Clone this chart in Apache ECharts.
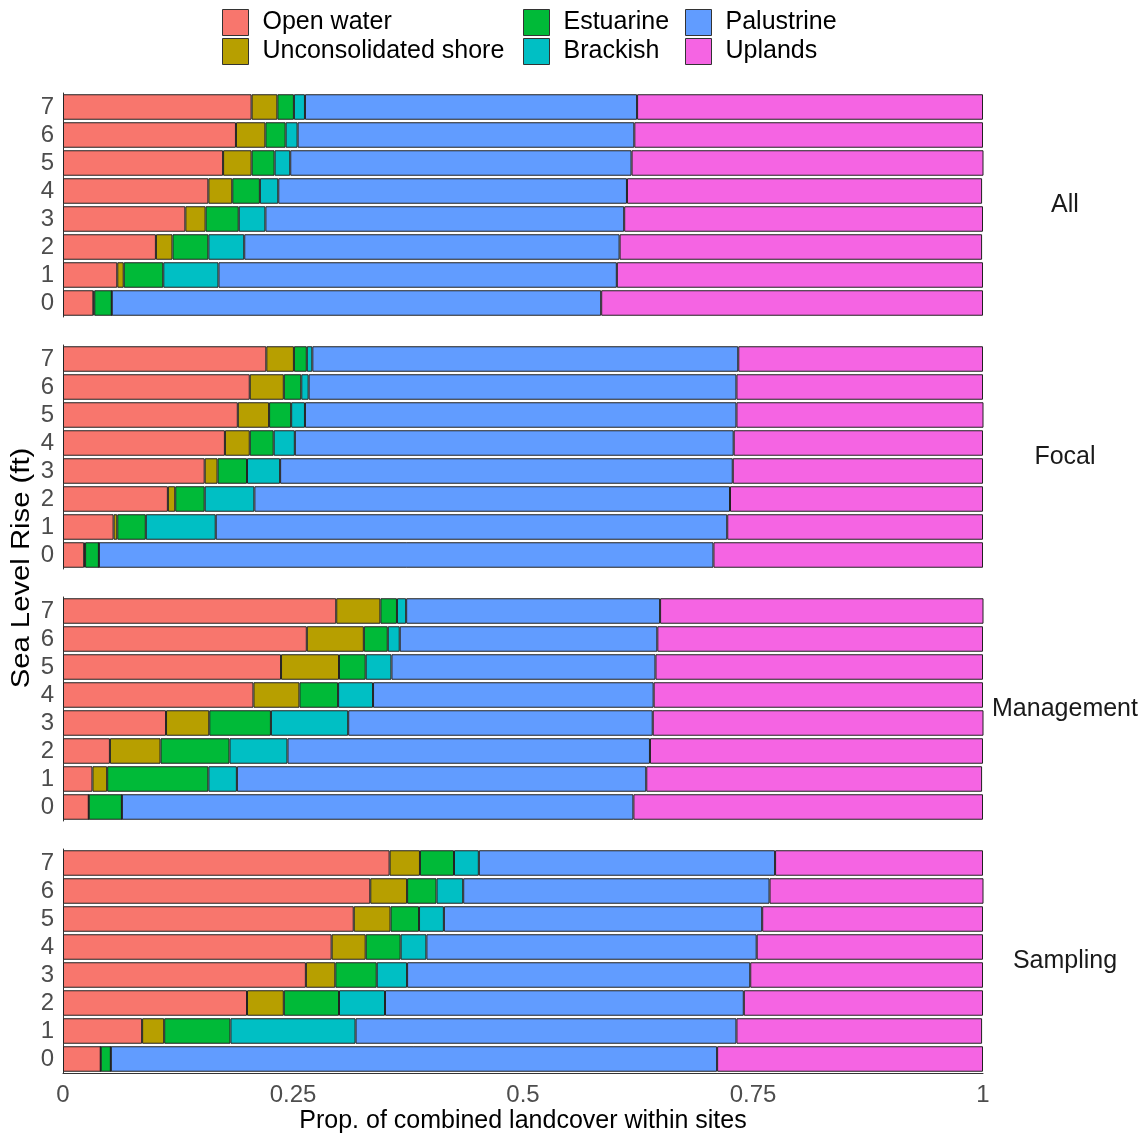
<!DOCTYPE html>
<html>
<head>
<meta charset="utf-8">
<script src="https://cdn.jsdelivr.net/npm/echarts@6/dist/echarts.min.js"></script>
<style>html,body{margin:0;padding:0;background:#fff;}#c{width:1146px;height:1134px;}</style>
</head>
<body>
<div id="c"></div>
<script>
// Categories (sea level rise, ft) and tick labels
var levels = ['0','1','2','3','4','5','6','7'];
var xTicks = [0, 0.25, 0.5, 0.75, 1];
var panels = ['All','Focal','Management','Sampling'];
var classes = ['Open water','Unconsolidated shore','Estuarine','Brackish','Palustrine','Uplands'];
var colors = ['#F8766D','#B79F00','#00BA38','#00BFC4','#619CFF','#F564E3'];

// Panel: All (rows 0..7)
var allOpen  = [0.033,0.059,0.101,0.133,0.158,0.174,0.188,0.205];
var allUnc   = [0.001,0.007,0.018,0.022,0.026,0.031,0.032,0.028];
var allEst   = [0.019,0.043,0.039,0.036,0.030,0.025,0.022,0.018];
var allBrack = [0.000,0.060,0.039,0.029,0.020,0.017,0.013,0.012];
var allPal   = [0.532,0.433,0.408,0.390,0.379,0.371,0.366,0.361];
var allUpl   = [0.415,0.398,0.394,0.390,0.386,0.383,0.379,0.376];

// Panel: Focal
var focOpen  = [0.023,0.055,0.114,0.154,0.176,0.190,0.203,0.221];
var focUnc   = [0.001,0.004,0.008,0.014,0.027,0.034,0.037,0.030];
var focEst   = [0.015,0.031,0.032,0.032,0.026,0.024,0.019,0.014];
var focBrack = [0.000,0.076,0.054,0.036,0.023,0.015,0.008,0.006];
var focPal   = [0.668,0.556,0.517,0.492,0.477,0.469,0.465,0.463];
var focUpl   = [0.293,0.278,0.275,0.272,0.271,0.269,0.268,0.266];

// Panel: Management
var manOpen  = [0.028,0.032,0.051,0.112,0.207,0.237,0.265,0.297];
var manUnc   = [0.000,0.016,0.055,0.047,0.050,0.063,0.062,0.048];
var manEst   = [0.036,0.110,0.075,0.067,0.042,0.029,0.026,0.018];
var manBrack = [0.000,0.031,0.063,0.084,0.038,0.028,0.013,0.010];
var manPal   = [0.556,0.445,0.394,0.331,0.305,0.287,0.280,0.276];
var manUpl   = [0.380,0.365,0.362,0.360,0.358,0.356,0.354,0.352];

// Panel: Sampling
var samOpen  = [0.041,0.086,0.200,0.264,0.292,0.316,0.334,0.355];
var samUnc   = [0.000,0.024,0.040,0.032,0.037,0.040,0.040,0.033];
var samEst   = [0.011,0.072,0.060,0.045,0.038,0.031,0.032,0.037];
var samBrack = [0.000,0.136,0.050,0.033,0.028,0.027,0.029,0.027];
var samPal   = [0.659,0.414,0.390,0.373,0.359,0.346,0.333,0.322];
var samUpl   = [0.289,0.267,0.260,0.253,0.246,0.240,0.233,0.226];

var panelData = [
  [allOpen, allUnc, allEst, allBrack, allPal, allUpl],
  [focOpen, focUnc, focEst, focBrack, focPal, focUpl],
  [manOpen, manUnc, manEst, manBrack, manPal, manUpl],
  [samOpen, samUnc, samEst, samBrack, samPal, samUpl]
];

var FONT = '"Liberation Sans", Arial, sans-serif';
var panelTops = [93, 345, 597, 849];
var panelH = 224;

var grids = [], xAxes = [], yAxes = [], series = [], graphics = [];
panels.forEach(function(p, i){
  grids.push({left: 63, right: 163, top: panelTops[i], height: panelH});
  var last = (i === panels.length - 1);
  xAxes.push({
    type: 'value', gridIndex: i, min: xTicks[0], max: xTicks[xTicks.length-1], interval: 0.25,
    show: true,
    axisLine: {show: last, lineStyle: {color: '#333', width: 1}},
    axisTick: {show: false},
    splitLine: {show: false},
    axisLabel: {show: last, color: '#4D4D4D', fontSize: 24, fontFamily: FONT, margin: 10,
      formatter: function(v){ return String(v); }}
  });
  yAxes.push({
    type: 'category', gridIndex: i, data: levels,
    axisLine: {show: true, lineStyle: {color: '#333', width: 1}},
    axisTick: {show: false},
    axisLabel: {interval: 0, color: '#4D4D4D', fontSize: 24, fontFamily: FONT, margin: 9}
  });
  classes.forEach(function(c, k){
    series.push({
      name: c, type: 'bar', stack: 'p' + i,
      xAxisIndex: i, yAxisIndex: i,
      data: panelData[i][k],
      barCategoryGap: '9%',
      itemStyle: {color: colors[k], borderColor: '#222', borderWidth: 1},
      emphasis: {disabled: true},
      animation: false
    });
  });
  graphics.push({
    type: 'text', x: 1065, y: panelTops[i] + panelH/2,
    style: {text: p, fontSize: 25, fontFamily: FONT, fill: '#1a1a1a', align: 'center', verticalAlign: 'middle'}
  });
});

graphics.push({
  type: 'text', x: 22, y: 568, rotation: Math.PI/2, scaleX: 1.17,
  style: {text: 'Sea Level Rise (ft)', fontSize: 25, fontFamily: FONT, fill: '#000', align: 'center', verticalAlign: 'middle'}
});
graphics.push({
  type: 'text', x: 523, y: 1121,
  style: {text: 'Prop. of combined landcover within sites', fontSize: 25, fontFamily: FONT, fill: '#000', align: 'center', verticalAlign: 'middle'}
});

function legendAt(left, names){
  return {
    left: left, top: 9, orient: 'vertical', data: names,
    itemWidth: 26, itemHeight: 26, itemGap: 2,
    icon: 'rect',
    itemStyle: {borderColor: '#333', borderWidth: 1},
    textStyle: {fontSize: 25, fontFamily: FONT, color: '#000', padding: [0,0,0,9]},
    selectedMode: false, padding: 0
  };
}

var chart = echarts.init(document.getElementById('c'), null, {renderer: 'canvas'});
chart.setOption({
  backgroundColor: '#fff',
  animation: false,
  color: colors,
  legend: [
    legendAt(222, ['Open water','Unconsolidated shore']),
    legendAt(523, ['Estuarine','Brackish']),
    legendAt(685, ['Palustrine','Uplands'])
  ],
  grid: grids,
  xAxis: xAxes,
  yAxis: yAxes,
  series: series,
  graphic: graphics
});
</script>
</body>
</html>
